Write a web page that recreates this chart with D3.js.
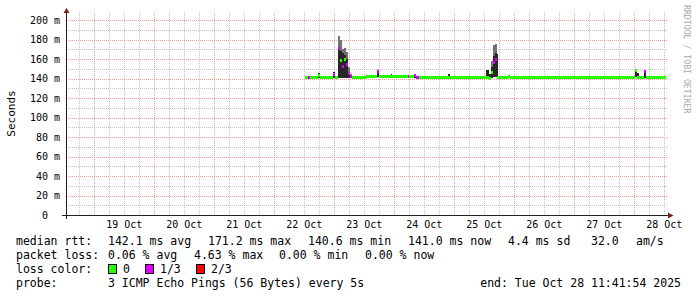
<!DOCTYPE html>
<html><head><meta charset="utf-8">
<script src="https://cdn.jsdelivr.net/npm/d3@7"></script>
<style>
html,body{margin:0;padding:0;background:#fff;}
svg{display:block;}
text{font-family:"DejaVu Sans Mono",monospace;white-space:pre;}
</style></head><body>
<svg id="c" width="697" height="297"></svg>
<script>
// ---------------- data ----------------
const startTime = "2025-10-18 12:41:54";
const endTime   = "2025-10-28 12:41:54";
const times = [
 "2025-10-22 12:17","2025-10-22 13:29","2025-10-22 14:17","2025-10-22 17:41","2025-10-22 18:17",
 "2025-10-22 23:29","2025-10-23 00:17","2025-10-23 01:41","2025-10-23 02:29","2025-10-23 03:05",
 "2025-10-23 03:53","2025-10-23 04:41","2025-10-23 05:29","2025-10-23 06:17","2025-10-23 07:05",
 "2025-10-23 12:41","2025-10-23 17:05","2025-10-23 17:53","2025-10-23 22:41","2025-10-23 23:05",
 "2025-10-24 05:29","2025-10-24 05:53","2025-10-24 08:05","2025-10-24 08:53","2025-10-24 09:53",
 "2025-10-24 21:41","2025-10-24 22:17","2025-10-25 12:53","2025-10-25 13:53","2025-10-25 14:41",
 "2025-10-25 15:29","2025-10-25 16:17","2025-10-25 17:05","2025-10-25 17:29","2025-10-25 21:41",
 "2025-10-25 22:29","2025-10-28 00:29","2025-10-28 01:17","2025-10-28 01:53","2025-10-28 03:53",
 "2025-10-28 04:41","2025-10-28 12:41"
];
const median = [
 141.5,141.5,141.3,143.5,141.2, 144.5,141.2,171,158,152, 160,154,145,142,140.6,
 141.8,147.5,141.8,142,141.8, 141.8,141.8,143.5,141,140.7, 140.7,140.7,141.5,139.5,146,
 156,160,141,140.7,142.5, 140.7,148,140.7,140.7,147.5, 140.7,140.7
];
const pingLow = [
 141.5,141.5,141.3,141,141.2, 141,141.2,141,141,141, 141,141,141,140.5,140.6,
 141.8,142,141.8,141.5,141.8, 141.8,141.8,141,140.5,140.7, 140.5,140.7,141,139,141,
 142,142,140,140.7,142, 140.7,142,140,140.7,141, 140.7,140.7
];
const pingMid = [
 141.5,141.5,141.3,146,141.2, 147,141.2,172,168,166, 164,160,147,143,140.6,
 141.8,148,141.8,145,141.8, 141.8,141.8,145,142,140.7, 144.5,140.7,148.5,145,152,
 163,166,165,140.7,143, 140.7,149,146,140.7,148.5, 140.7,140.7
];
const pingHigh = [
 141.5,141.5,141.3,146,141.2, 147,141.2,184,180,170, 171,167,152,145,140.6,
 141.8,149,141.8,145,141.8, 141.8,141.8,145,142,140.7, 144.5,140.7,148.5,145,158,
 174,175,165,140.7,143, 140.7,149,146,140.7,148.5, 140.7,140.7
];
const loss = [
 0,1,0,0,0, 1,0,1,0,1, 0,1,1,1,0,
 0,1,0,0,0, 1,0,1,1,0, 0,0,0,0,0,
 1,1,0,0,0, 0,0,0,0,1, 0,0
];
const lossColors = ["#26ff00","#dd00ff","#ff0000"];
const lossLabels = ["0","1/3","2/3"];
const yTicks = [0,20,40,60,80,100,120,140,160,180,200];
const yTickLabels = ["0  ","20 m","40 m","60 m","80 m","100 m","120 m","140 m","160 m","180 m","200 m"];
const xTickDays = ["2025-10-19","2025-10-20","2025-10-21","2025-10-22","2025-10-23",
                   "2025-10-24","2025-10-25","2025-10-26","2025-10-27","2025-10-28"];
const xTickLabels = ["19 Oct","20 Oct","21 Oct","22 Oct","23 Oct","24 Oct","25 Oct","26 Oct","27 Oct","28 Oct"];
const rttStats  = ["142.1 ms avg","171.2 ms max","140.6 ms min","141.0 ms now","4.4 ms sd"];
const rttAms    = ["32.0","am/s"];
const lossStats = ["0.06 % avg","4.63 % max","0.00 % min","0.00 % now"];
const probeText = "3 ICMP Echo Pings (56 Bytes) every 5s";
const endText   = "end: Tue Oct 28 11:41:54 2025";

// ---------------- chart ----------------
const svg = d3.select("#c");
const pT = d3.utcParse("%Y-%m-%d %H:%M");
const pF = d3.utcParse("%Y-%m-%d %H:%M:%S");
const pD = d3.utcParse("%Y-%m-%d");
const t0 = pF(startTime), t1 = pF(endTime);
const x = d3.scaleUtc().domain([t0, t1]).range([66, 666]);
const y = d3.scaleLinear().domain([0, 200]).range([215, 20]);
const gTop = 13, gRight = 668;
const cx = v => Math.round(x(v)) + 0.5;
const cy = v => Math.round(y(v)) + 0.5;

const grid = svg.append("g").attr("shape-rendering","crispEdges");
const hours = d3.utcHour.every(6).range(t0, t1);
grid.selectAll("line.vmin").data(hours.filter(h => h.getUTCHours() !== 0)).join("line")
  .attr("x1", cx).attr("x2", cx).attr("y1", gTop).attr("y2", 215)
  .attr("stroke","#c2c2c2").attr("stroke-dasharray","1,1");
grid.selectAll("line.vmaj").data(d3.utcDay.range(t0, t1)).join("line")
  .attr("x1", cx).attr("x2", cx).attr("y1", gTop).attr("y2", 215)
  .attr("stroke","#ee9c9c").attr("stroke-dasharray","1,1");
const yMinor = d3.range(10, 201, 20);
grid.selectAll("line.hmin").data(yMinor).join("line")
  .attr("x1", 66).attr("x2", gRight).attr("y1", cy).attr("y2", cy)
  .attr("stroke","#c2c2c2").attr("stroke-dasharray","1,1");
grid.selectAll("line.hmaj").data(yTicks.filter(v => v > 0)).join("line")
  .attr("x1", 66).attr("x2", gRight).attr("y1", cy).attr("y2", cy)
  .attr("stroke","#ee9c9c").attr("stroke-dasharray","1,1");

// data segments
const segs = d3.range(times.length - 1).map(i => ({
  a: pT(times[i]), b: pT(times[i+1]), med: median[i], lo: pingLow[i],
  mid: pingMid[i], hi: pingHigh[i], loss: loss[i]
}));
const marks = svg.append("g").attr("shape-rendering","crispEdges");
marks.selectAll("rect.light").data(segs.filter(s => s.hi > s.mid)).join("rect")
  .attr("x", s => x(s.a)).attr("width", s => x(s.b) - x(s.a))
  .attr("y", s => y(s.hi)).attr("height", s => y(s.mid) - y(s.hi))
  .attr("fill","#717171");
marks.selectAll("rect.dark").data(segs.filter(s => s.mid > s.lo)).join("rect")
  .attr("x", s => x(s.a)).attr("width", s => x(s.b) - x(s.a))
  .attr("y", s => y(s.mid)).attr("height", s => y(s.lo) - y(s.mid))
  .attr("fill","#262626");
marks.selectAll("rect.med").data(segs).join("rect")
  .attr("x", s => x(s.a)).attr("width", s => x(s.b) - x(s.a))
  .attr("y", s => y(s.med) - 1.5).attr("height", 3)
  .attr("fill", s => lossColors[s.loss]);

// axes
const ax = svg.append("g").attr("shape-rendering","crispEdges");
ax.append("line").attr("x1", 62).attr("x2", 670).attr("y1", 215.5).attr("y2", 215.5).attr("stroke","#1f1f1f");
ax.append("line").attr("x1", 66.5).attr("x2", 66.5).attr("y1", 219).attr("y2", 11).attr("stroke","#1f1f1f");
svg.append("path").attr("d","M673.5,215.5L668,212.5L668,218.5Z").attr("fill","#801f1f");
svg.append("path").attr("d","M66.5,8L63.5,13L69.5,13Z").attr("fill","#801f1f");

// y labels
svg.selectAll("text.yl").data(yTicks).join("text")
  .attr("x", 60).attr("y", v => y(v) + 3.5).attr("text-anchor","end")
  .attr("font-size", 10).attr("fill","#000")
  .text((v, i) => yTickLabels[i]);
// x labels
svg.selectAll("text.xl").data(xTickDays).join("text")
  .attr("x", d => x(d3.utcHour.offset(pD(d), 12))).attr("y", 228).attr("text-anchor","middle")
  .attr("font-size", 10).attr("fill","#000")
  .text((d, i) => xTickLabels[i]);

svg.append("text").attr("transform","translate(15,113.5) rotate(-90)")
  .attr("text-anchor","middle").attr("font-size", 11).attr("fill","#000").text("Seconds");
svg.append("text").attr("transform","translate(684,5) rotate(90)")
  .attr("font-size", 8.2).attr("fill","#a9a9a9").text("RRDTOOL / TOBI OETIKER");

// legend
const lg = svg.append("g").attr("font-size", 11.5).attr("fill","#000");
const L1 = 245, L2 = 259, L3 = 273, L4 = 287;
lg.append("text").attr("x",16).attr("y",L1).text("median rtt:");
const rttX = [108, 208, 308, 408, 508];
rttStats.forEach((s,i) => lg.append("text").attr("x", rttX[i]).attr("y", L1).text(s));
lg.append("text").attr("x",591).attr("y",L1).text(rttAms[0]);
lg.append("text").attr("x",636).attr("y",L1).text(rttAms[1]);
lg.append("text").attr("x",16).attr("y",L2).text("packet loss:");
const lossX = [108, 194, 279, 365];
lossStats.forEach((s,i) => lg.append("text").attr("x", lossX[i]).attr("y", L2).text(s));
lg.append("text").attr("x",16).attr("y",L3).text("loss color:");
const boxX = [108, 145, 196];
lossColors.forEach((c,i) => {
  lg.append("rect").attr("x", boxX[i] + 0.5).attr("y", L3 - 8.5).attr("width", 8).attr("height", 9)
    .attr("fill", c).attr("stroke","#000").attr("stroke-width",1);
  lg.append("text").attr("x", boxX[i] + 15).attr("y", L3).text(lossLabels[i]);
});
lg.append("text").attr("x",16).attr("y",L4).text("probe:");
lg.append("text").attr("x",108).attr("y",L4).text(probeText);
lg.append("text").attr("x",681).attr("y",L4).attr("text-anchor","end").text(endText);
</script>
</body></html>
